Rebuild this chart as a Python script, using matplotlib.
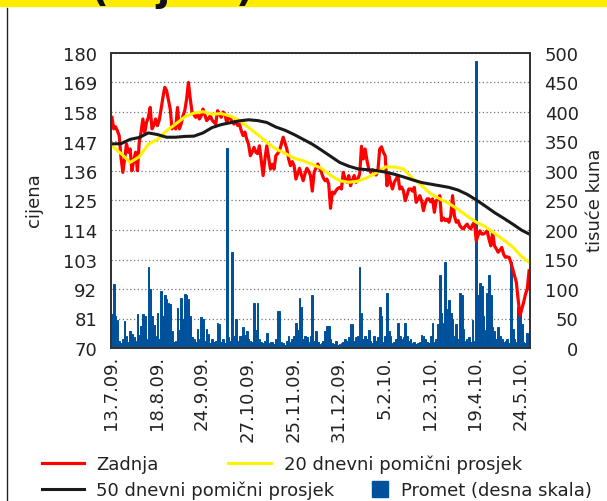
import matplotlib.pyplot as plt
from matplotlib.patches import Rectangle
from matplotlib.lines import Line2D
from matplotlib.transforms import ScaledTranslation

# boja serija
CRVENA = '#FF0000'
ZUTA = '#FFF200'
CRNA = '#1A1A1A'
PLAVA = '#00519B'

# datumi na osi x (svakih 25 dana trgovanja)
datumi = ['13.7.09.', '18.8.09.', '24.9.09.', '27.10.09.', '25.11.09.',
          '31.12.09.', '5.2.10.', '12.3.10.', '19.4.10.', '24.5.10.']

# zadnja cijena, dan po dan
zadnja = [
    156.0, 151.7, 152.5, 151.0, 149.2, 141.0, 135.5, 140.5, 146.1, 143.0,
    144.2, 136.1, 140.0, 143.0, 136.1, 146.7, 150.5, 155.4, 150.2, 154.1,
    156.0, 159.7, 151.7, 153.0, 155.4, 152.9, 155.0, 159.1, 163.5, 167.2,
    166.0, 162.5, 159.1, 151.7, 153.0, 151.7, 159.7, 151.7, 153.5, 156.6,
    158.5, 162.8, 169.0, 163.0, 157.9, 157.0, 156.0, 157.5, 155.4, 156.5,
    159.1, 157.0, 154.8, 155.5, 156.6, 155.0, 154.2, 153.5, 158.5, 157.3,
    156.0, 158.0, 157.3, 154.1, 156.0, 155.4, 154.5, 153.5, 154.8, 153.0,
    153.5, 151.0, 149.2, 150.5, 147.9, 146.0, 141.7, 143.0, 144.8, 143.0,
    142.5, 145.4, 140.0, 134.3, 140.5, 145.4, 141.0, 136.7, 138.5, 136.7,
    141.7, 142.5, 143.6, 146.0, 148.6, 146.5, 144.2, 140.5, 138.0, 139.5,
    138.0, 133.0, 135.0, 137.0, 134.5, 132.4, 135.0, 137.0, 136.0, 134.3,
    128.5, 135.5, 137.0, 138.6, 137.0, 135.5, 133.5, 132.4, 133.0, 131.2,
    122.1, 128.1, 127.5, 128.7, 129.5, 129.9, 129.3, 135.5, 133.0, 131.8,
    134.3, 130.5, 132.5, 134.3, 131.8, 133.0, 134.9, 145.2, 140.5, 144.2,
    140.0, 136.7, 135.5, 136.5, 136.1, 134.5, 136.1, 144.2, 145.0, 143.0,
    141.7, 130.5, 134.3, 131.5, 129.3, 131.8, 133.0, 134.3, 129.3, 130.0,
    128.7, 124.9, 127.0, 129.3, 129.3, 128.5, 129.9, 124.3, 125.5, 126.8,
    124.9, 121.2, 124.0, 125.6, 125.6, 124.5, 125.6, 120.6, 124.9, 125.5,
    126.8, 117.5, 118.5, 117.5, 118.0, 116.9, 119.3, 126.8, 119.3, 116.9,
    117.5, 115.6, 114.8, 114.4, 115.5, 116.2, 115.0, 114.4, 116.0, 116.9,
    110.0, 112.0, 113.7, 112.5, 112.5, 113.0, 113.7, 110.5, 108.1, 113.1,
    108.1, 107.0, 105.7, 106.5, 107.5, 105.0, 103.8, 104.0, 103.8, 101.9,
    99.5, 97.0, 94.5, 88.0, 82.1, 84.5, 87.0, 90.0, 92.0, 98.8,
]

# promet u tisućama kuna
promet = [
    57, 108, 55, 48, 12, 8, 15, 46, 21, 10,
    28, 24, 18, 12, 57, 22, 37, 57, 55, 15,
    138, 100, 55, 39, 20, 59, 15, 96, 55, 89,
    83, 77, 75, 28, 10, 12, 67, 30, 84, 50,
    92, 90, 83, 55, 18, 15, 10, 32, 15, 52,
    50, 12, 32, 24, 8, 15, 10, 12, 42, 41,
    10, 15, 8, 339, 18, 12, 163, 20, 50, 12,
    21, 21, 35, 22, 28, 15, 12, 10, 77, 30,
    77, 15, 11, 8, 12, 26, 8, 11, 10, 6,
    15, 63, 63, 10, 8, 5, 12, 21, 10, 15,
    20, 43, 30, 84, 70, 15, 20, 18, 10, 20,
    89, 12, 29, 10, 7, 8, 12, 28, 37, 37,
    15, 8, 6, 12, 5, 6, 8, 10, 15, 12,
    18, 40, 40, 12, 18, 20, 138, 60, 15, 20,
    15, 31, 12, 8, 20, 12, 18, 70, 55, 10,
    20, 94, 29, 20, 8, 10, 15, 42, 20, 15,
    18, 42, 20, 12, 15, 8, 10, 6, 8, 10,
    22, 20, 15, 10, 8, 20, 43, 10, 15, 40,
    124, 60, 43, 145, 66, 82, 60, 49, 20, 40,
    15, 94, 90, 32, 12, 15, 18, 10, 48, 12,
    486, 89, 111, 105, 55, 30, 94, 123, 90, 35,
    28, 15, 35, 20, 15, 10, 12, 15, 8, 145,
    32, 15, 10, 69, 60, 40, 10, 8, 26, 20,
]

# pomični prosjeci, očitani svakih 5 dana
dani_prosjek = list(range(0, 230, 5)) + [229]
prosjek20 = [145.4, 142.5, 139.2, 141.3, 146.0, 147.8, 151.0, 153.5, 156.2, 157.6,
             158.1, 157.2, 157.4, 156.5, 154.9, 152.2, 149.6, 146.7, 144.2, 142.6,
             140.8, 139.8, 138.5, 137.0, 134.4, 132.4, 131.8, 132.2, 133.5, 135.2,
             137.5, 137.5, 136.8, 133.3, 130.6, 127.5, 125.6, 123.9, 121.7, 119.2,
             116.9, 115.2, 112.8, 110.3, 107.7, 104.0, 102.0]
prosjek50 = [146.1, 146.2, 147.8, 148.5, 150.2, 149.6, 148.6, 148.6, 148.9, 149.0,
             150.2, 152.2, 153.3, 154.0, 154.7, 155.1, 154.8, 154.1, 152.4, 151.2,
             149.6, 147.8, 146.0, 143.8, 141.5, 139.2, 137.8, 136.8, 136.5, 136.2,
             135.6, 134.8, 133.8, 132.7, 131.7, 131.1, 130.5, 129.9, 128.9, 127.3,
             125.2, 122.9, 120.5, 118.4, 116.2, 113.9, 112.5]

dani = list(range(len(zadnja)))

plt.rcParams['font.family'] = 'DejaVu Sans'
plt.rcParams['text.color'] = '#222222'

fig = plt.figure(figsize=(6.07, 5.02), dpi=100)
W, H = 607, 502

# žuta traka i ostaci naslova na vrhu
fig.patches.append(Rectangle((0, 1 - 7 / H), 1, 7 / H, transform=fig.transFigure,
                             color='#FFEC00', zorder=0))
for znak, px in [('(', 100), ('j', 163), (')', 245)]:
    fig.text(px / W, 1 - 1 / H, znak, fontsize=28, fontweight='bold',
             ha='center', va='baseline', color='#111111')
fig.add_artist(Line2D([7 / W, 7 / W], [0, 1 - 9 / H], transform=fig.transFigure,
                      color='#222222', lw=1.0))

ax = fig.add_axes([111 / W, 1 - 349 / H, 419 / W, 295 / H])
ax2 = ax.twinx()

stupci = ax2.bar(dani, promet, width=0.9, color=PLAVA, edgecolor=PLAVA,
                 linewidth=0.7, zorder=2)
ax.set_zorder(ax2.get_zorder() + 1)
ax.patch.set_visible(False)

l1, = ax.plot(dani, zadnja, color=CRVENA, lw=2.3, solid_joinstyle='round')
l2, = ax.plot(dani_prosjek, prosjek20, color=ZUTA, lw=2.2)
l3, = ax.plot(dani_prosjek, prosjek50, color=CRNA, lw=2.2)

ax.set_xlim(-0.5, len(dani) - 0.5)
ax.set_ylim(70, 180)
ax.set_yticks(range(70, 181, 11))
ax2.set_ylim(0, 500)
ax2.set_yticks(range(0, 501, 50))

pozicije = [-0.5 + 25 * k for k in range(len(datumi))]
ax.set_xticks(pozicije)
ax.set_xticklabels(datumi, rotation=90, va='top', ha='center')
pomak = ScaledTranslation(4 / 100, 0, fig.dpi_scale_trans)
for t in ax.get_xticklabels():
    t.set_transform(t.get_transform() + pomak)

ax2.set_axisbelow(True)
ax2.grid(True, axis='both', color='#777777', linestyle=(0, (1, 2)), lw=0.9)

ax.tick_params(axis='both', length=0, labelsize=13, colors='#222222')
ax.tick_params(axis='y', pad=10)
ax.tick_params(axis='x', pad=5)
ax2.tick_params(axis='y', length=0, labelsize=13, colors='#222222', pad=35)
for t in ax2.get_yticklabels():
    t.set_horizontalalignment('right')

for a in (ax, ax2):
    for s in a.spines.values():
        s.set_color('#333333')
        s.set_linewidth(1.3)

fig.text(34 / W, 1 - 200 / H, 'cijena', rotation=90, fontsize=13,
         ha='center', va='center')
fig.text(595 / W, 1 - 200 / H, 'tisuće kuna', rotation=90, fontsize=13,
         ha='center', va='center')

# legenda ispod grafa
kvadrat = Line2D([], [], marker='s', linestyle='none', markersize=11, color=PLAVA)
stavke = [
    (l1, 'Zadnja', 42, 465, 2.3),
    (l2, '20 dnevni pomični prosjek', 228, 465, 2.4),
    (l3, '50 dnevni pomični prosjek', 42, 491, 2.3),
    (kvadrat, 'Promet (desna skala)', 372, 491, 0.9),
]
for ruka, tekst, px, py, duljina in stavke:
    fig.legend([ruka], [tekst], loc='center left',
               bbox_to_anchor=(px / W, 1 - py / H), frameon=False,
               fontsize=13, handlelength=duljina, handletextpad=0.7,
               borderpad=0, borderaxespad=0)

fig.savefig('out.png', dpi=100)
